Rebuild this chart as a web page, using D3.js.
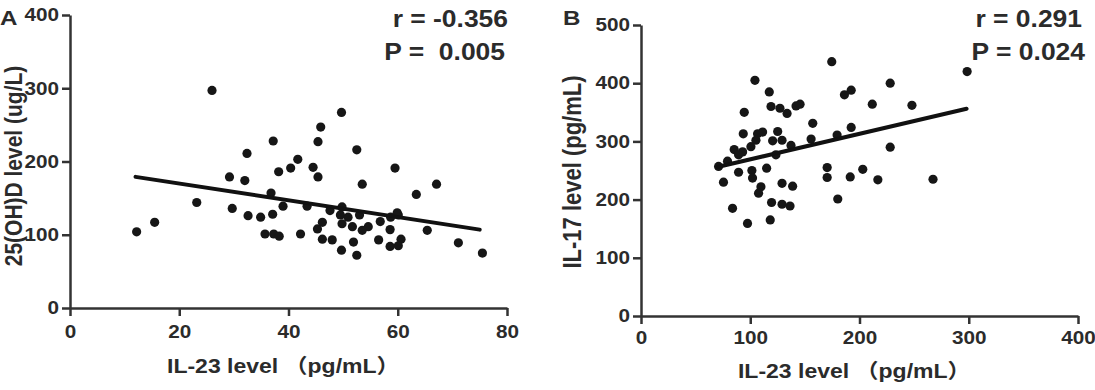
<!DOCTYPE html>
<html>
<head>
<meta charset="utf-8">
<script src="https://cdn.jsdelivr.net/npm/d3@7"></script>
<style>
body { margin: 0; background: #fff; }
svg { display: block; }
text { font-family: "Liberation Sans", Arial, "Noto Sans CJK SC", sans-serif; font-weight: bold; fill: #2b2b2b; }
</style>
</head>
<body>
<svg id="chart" width="1095" height="390"></svg>
<script>
// panel A: IL-23 vs 25(OH)D
const il23A = [26.0, 37.2, 32.4, 41.7, 40.4, 38.2, 29.2, 32.0, 36.8, 39.0,
    23.2, 29.7, 32.6, 34.9, 37.1, 15.5, 12.2, 35.7, 37.3, 38.3,
    42.2, 49.7, 45.9, 45.4, 52.5, 44.5, 45.4, 59.5, 53.5, 67.1,
    63.4, 43.4, 47.6, 49.8, 49.5, 50.9, 53.0, 56.8, 58.7, 60.1,
    46.2, 45.3, 49.8, 51.7, 54.6, 53.5, 58.6, 65.4, 46.2, 48.0,
    51.9, 56.5, 60.6, 60.1, 58.6, 49.7, 52.5, 71.1, 75.5, 59.9];
const vitD = [297, 228, 211, 203, 191, 186, 179, 174, 157, 139,
    144, 136, 126, 124, 128, 117, 104, 101, 101, 98,
    101, 267, 247, 227, 216, 192, 179, 191, 169, 169,
    155, 139, 133, 138, 127, 124, 127, 118, 124, 127,
    117, 108, 115, 111, 111, 106, 107, 106, 94, 93,
    90, 93, 94, 85, 84, 79, 72, 89, 75, 130];
const fitAx = [12, 75];
const fitAy = [179, 107];
const ticksAx = [0, 20, 40, 60, 80];
const ticksAy = [0, 100, 200, 300, 400];

// panel B: IL-23 vs IL-17
const il23B = [104.3, 117.4, 119.0, 127.2, 133.7, 141.9, 145.6, 94.5, 157.2, 93.6,
    106.7, 111.3, 125.1, 105.2, 120.5, 129.1, 137.3, 155.7, 85.3, 100.6,
    93.0, 89.3, 123.5, 79.2, 71.0, 115.0, 89.3, 101.5, 102.1, 75.5,
    129.1, 138.8, 109.8, 107.6, 119.5, 129.1, 136.4, 83.8, 97.5, 118.3,
    174.6, 298.5, 228.1, 192.4, 186.2, 211.7, 248.0, 192.4, 179.5, 228.1,
    170.4, 203.0, 170.4, 191.5, 216.8, 267.3, 180.1];
const il17 = [405, 385, 360, 357, 348, 361, 364, 350, 331, 313,
    313, 316, 317, 302, 301, 302, 293, 304, 286, 291,
    282, 277, 277, 266, 257, 254, 247, 250, 237, 230,
    228, 223, 222, 211, 195, 192, 189, 185, 159, 165,
    437, 420, 400, 388, 380, 364, 362, 324, 311, 290,
    255, 252, 238, 239, 234, 235, 201];
const fitBx = [70, 298];
const fitBy = [256, 356];
const ticksBx = [0, 100, 200, 300, 400];
const ticksBy = [0, 100, 200, 300, 400, 500];

const SX = 1.15; // the source lettering is a bit wide

const svg = d3.select("#chart");

// stretch text sideways, keeping its anchor in place
function wide(sel) {
    sel.each(function () {
        const t = d3.select(this);
        const x = +t.attr("x") || 0;
        t.attr("x", x / SX).attr("transform", `scale(${SX},1)`);
    });
}

function panel(opt) {
    const x = d3.scaleLinear().domain(opt.xDomain).range(opt.xRange);
    const y = d3.scaleLinear().domain(opt.yDomain).range(opt.yRange);

    const styleAxis = g => g
        .attr("color", "#333")
        .attr("stroke-width", 2.5)
        .attr("font-size", 18)
        .attr("font-family", null);

    svg.append("g")
        .attr("transform", `translate(0,${opt.yRange[0]})`)
        .call(d3.axisBottom(x).tickValues(opt.xTicks).tickSize(8).tickSizeOuter(0).tickPadding(opt.xPad))
        .call(styleAxis)
        .call(g => g.selectAll("text").call(wide));

    svg.append("g")
        .attr("transform", `translate(${opt.xRange[0]},0)`)
        .call(d3.axisLeft(y).tickValues(opt.yTicks).tickSize(8).tickSizeOuter(0).tickPadding(3))
        .call(styleAxis)
        .call(g => g.selectAll("text").call(wide));

    // points
    svg.append("g")
        .selectAll("circle")
        .data(opt.xs.map((v, i) => [v, opt.ys[i]]))
        .join("circle")
        .attr("cx", d => x(d[0]))
        .attr("cy", d => y(d[1]))
        .attr("r", 4.6)
        .attr("fill", "#161616");

    // fit line
    const line = d3.line().x(d => x(d[0])).y(d => y(d[1]));
    svg.append("path")
        .attr("d", line(opt.fitX.map((v, i) => [v, opt.fitY[i]])))
        .attr("fill", "none")
        .attr("stroke", "#111")
        .attr("stroke-width", 4)
        .attr("stroke-linecap", "round");

    // panel letter
    svg.append("text")
        .attr("x", opt.letterX).attr("y", 25)
        .attr("font-size", 21)
        .text(opt.letter)
        .call(wide);

    // stats
    svg.append("text")
        .attr("x", opt.statX).attr("y", 27)
        .attr("font-size", 23)
        .attr("text-anchor", "end")
        .style("white-space", "pre")
        .text(opt.r)
        .call(wide);
    svg.append("text")
        .attr("x", opt.statX + opt.pShift).attr("y", 60)
        .attr("font-size", 23)
        .attr("text-anchor", "end")
        .style("white-space", "pre")
        .text(opt.p)
        .call(wide);

    // axis titles
    svg.append("text")
        .attr("x", opt.xTitleX).attr("y", opt.xTitleY)
        .attr("font-size", 20)
        .style("white-space", "pre")
        .text("IL-23 level （pg/mL）")
        .call(wide);

    svg.append("text")
        .attr("transform", `translate(${opt.yTitleX},${opt.yTitleY}) scale(${SX},1) rotate(-90)`)
        .attr("font-size", opt.yTitleSize)
        .attr("text-anchor", "middle")
        .text(opt.yTitle);
}

panel({
    xDomain: [0, 80], xRange: [70, 507],
    yDomain: [0, 400], yRange: [308, 15],
    xTicks: ticksAx, yTicks: ticksAy, xPad: 9,
    xs: il23A, ys: vitD, fitX: fitAx, fitY: fitAy,
    letter: "A", letterX: 0,
    r: "r = -0.356", p: "P =  0.005", statX: 508, pShift: -3,
    xTitleX: 167, xTitleY: 373,
    yTitle: "25(OH)D level (ug/L)", yTitleX: 21.5, yTitleY: 166, yTitleSize: 21
});

panel({
    xDomain: [0, 400], xRange: [641, 1078],
    yDomain: [0, 500], yRange: [316, 25],
    xTicks: ticksBx, yTicks: ticksBy, xPad: 7,
    xs: il23B, ys: il17, fitX: fitBx, fitY: fitBy,
    letter: "B", letterX: 563,
    r: "r = 0.291", p: "P = 0.024", statX: 1082, pShift: 3,
    xTitleX: 738, xTitleY: 378,
    yTitle: "IL-17 level (pg/mL)", yTitleX: 581, yTitleY: 172, yTitleSize: 22
});
</script>
</body>
</html>
